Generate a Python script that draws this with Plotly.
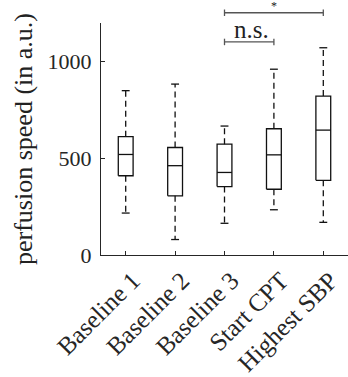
import plotly.graph_objects as go

categories = ["Baseline 1", "Baseline 2", "Baseline 3", "Start CPT", "Highest SBP"]
lower_whisker = [217, 80, 164, 234, 169]
q1 = [410, 306, 354, 340, 386]
median = [520, 462, 427, 518, 646]
q3 = [612, 556, 573, 653, 822]
upper_whisker = [850, 884, 667, 961, 1072]

y_ticks = [0, 500, 1000]
brackets = [
    {"from": 3, "to": 4, "y": 1102, "label": "n.s."},
    {"from": 3, "to": 5, "y": 1253, "label": "*"},
]

Y_MAX = 1200
FONT = "Liberation Serif, Times New Roman, serif"
BOX_HALF = 0.15
CAP_HALF = 0.08

pos = list(range(1, len(categories) + 1))

box_x, box_y = [], []
med_x, med_y = [], []
wh_x, wh_y = [], []
cap_x, cap_y = [], []
for p, lo, a, m, b, hi in zip(pos, lower_whisker, q1, median, q3, upper_whisker):
    box_x += [p - BOX_HALF, p + BOX_HALF, p + BOX_HALF, p - BOX_HALF, p - BOX_HALF, None]
    box_y += [a, a, b, b, a, None]
    med_x += [p - BOX_HALF, p + BOX_HALF, None]
    med_y += [m, m, None]
    wh_x += [p, p, None, p, p, None]
    wh_y += [b, hi, None, a, lo, None]
    cap_x += [p - CAP_HALF, p + CAP_HALF, None, p - CAP_HALF, p + CAP_HALF, None]
    cap_y += [hi, hi, None, lo, lo, None]

fig = go.Figure()
line_col = "#111111"
fig.add_trace(go.Scatter(x=wh_x, y=wh_y, mode="lines",
                         line=dict(color=line_col, width=1.3, dash="6px,4px"),
                         hoverinfo="skip", showlegend=False))
fig.add_trace(go.Scatter(x=cap_x, y=cap_y, mode="lines",
                         line=dict(color=line_col, width=1.3),
                         hoverinfo="skip", showlegend=False))
fig.add_trace(go.Scatter(x=box_x, y=box_y, mode="lines",
                         line=dict(color=line_col, width=1.3),
                         hoverinfo="skip", showlegend=False))
fig.add_trace(go.Scatter(x=med_x, y=med_y, mode="lines",
                         line=dict(color=line_col, width=1.3),
                         hoverinfo="skip", showlegend=False))

br_col = "#555555"
tick_h = 0.014
for br in brackets:
    yp = br["y"] / Y_MAX
    fig.add_shape(type="line", xref="x", yref="paper", x0=br["from"], x1=br["to"],
                  y0=yp, y1=yp, line=dict(color=br_col, width=1.3))
    for xe in (br["from"], br["to"]):
        fig.add_shape(type="line", xref="x", yref="paper", x0=xe, x1=xe,
                      y0=yp - tick_h, y1=yp + tick_h, line=dict(color=br_col, width=1.3))
    is_star = br["label"] == "*"
    fig.add_annotation(x=(br["from"] + br["to"]) / 2, y=yp, xref="x", yref="paper",
                       text=br["label"], showarrow=False, yanchor="bottom",
                       xshift=0 if is_star else 2,
                       yshift=-2 if is_star else -3,
                       font=dict(family=FONT, size=12 if is_star else 25, color="#222222"))

fig.add_annotation(x=-78 / 247, y=0.5, xref="paper", yref="paper",
                   text="perfusion speed (in a.u.)", textangle=-90, showarrow=False,
                   xanchor="center", yanchor="middle",
                   font=dict(family=FONT, size=26, color="#222222"))

fig.update_layout(
    width=348, height=377,
    margin=dict(l=101, r=0, t=23, b=120),
    paper_bgcolor="white", plot_bgcolor="white",
    showlegend=False,
    font=dict(family=FONT, size=24, color="#262626"),
    xaxis=dict(range=[0.5, 5.5], tickmode="array", tickvals=pos, ticktext=categories,
               tickangle=-45, ticks="inside", ticklen=4, tickcolor="#262626",
               tickfont=dict(family=FONT, size=25, color="#262626"),
               ticklabelstandoff=0, ticklabelshift=7,
               showline=True, linecolor="#262626", linewidth=1,
               showgrid=False, zeroline=False, mirror=False),
    yaxis=dict(range=[0, Y_MAX], tickmode="array", tickvals=y_ticks,
               ticks="inside", ticklen=4, tickcolor="#262626",
               tickfont=dict(family=FONT, size=22, color="#262626"),
               ticklabelstandoff=4,
               showline=True, linecolor="#262626", linewidth=1,
               showgrid=False, zeroline=False),
)

fig.write_html("out.html")
